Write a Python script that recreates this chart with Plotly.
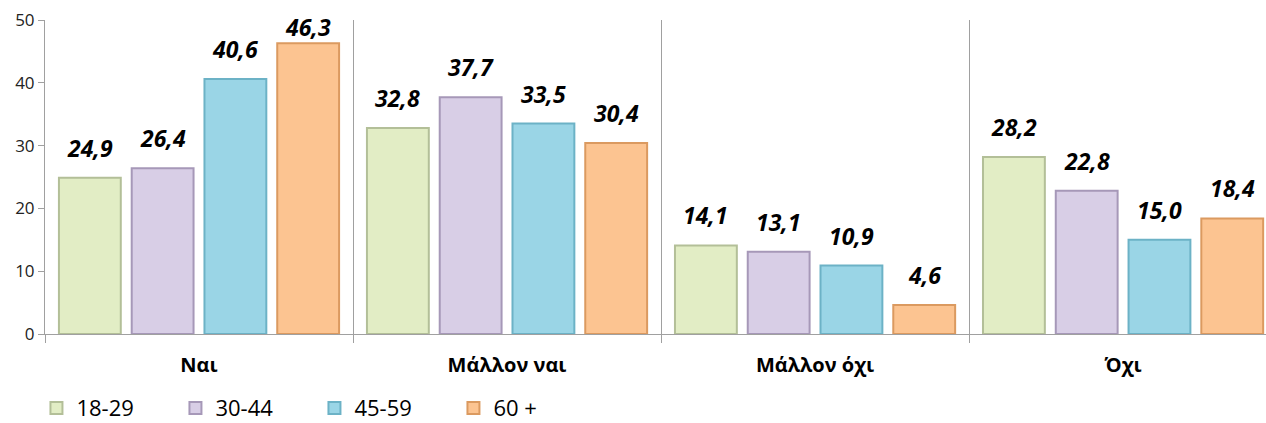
import plotly.graph_objects as go

categories = ["Ναι", "Μάλλον ναι", "Μάλλον όχι", "Όχι"]
series_names = ["18-29", "30-44", "45-59", "60 +"]
v_18_29 = [24.9, 32.8, 14.1, 28.2]
v_30_44 = [26.4, 37.7, 13.1, 22.8]
v_45_59 = [40.6, 33.5, 10.9, 15.0]
v_60p = [46.3, 30.4, 4.6, 18.4]
series_values = [v_18_29, v_30_44, v_45_59, v_60p]
y_ticks = [0, 10, 20, 30, 40, 50]

fills = ["#e2edc5", "#d8cee6", "#9ad5e6", "#fcc491"]
edges = ["#b3bf98", "#a698b8", "#6cb2c6", "#db9a60"]

BARGAP = 0.055
BARGROUPGAP = 0.15
FONT = "Open Sans"
Y_MAX = 50
PLOT_H = 423 - 20 - 89
LABEL_SHIFT = 12
LABEL_BOX = 32

fig = go.Figure()
for name, vals, fc, ec in zip(series_names, series_values, fills, edges):
    fig.add_trace(go.Bar(
        x=categories, y=vals, name=name,
        marker=dict(color=fc, line=dict(color=ec, width=2)),
    ))

def fmt(v):
    return f"{v:.1f}".replace(".", ",")

n = len(series_names)
slot = (1 - BARGAP) / n
ppu = PLOT_H / Y_MAX
annotations = []
for i, vals in enumerate(series_values):
    for j, v in enumerate(vals):
        ann = dict(
            x=j + (i - (n - 1) / 2) * slot, xref="x", yref="y",
            text=f"<b><i>{fmt(v)}</i></b>", showarrow=False,
            font=dict(family=FONT, size=23, color="#000000"),
        )
        if v * ppu + LABEL_SHIFT + LABEL_BOX > PLOT_H:
            # label kept inside the plot area (as in the original)
            ann.update(y=Y_MAX, yanchor="top", yshift=11)
        else:
            ann.update(y=v, yanchor="bottom", yshift=LABEL_SHIFT)
        annotations.append(ann)

fig.update_layout(
    width=1266, height=423,
    margin=dict(l=45, r=0, t=20, b=89, autoexpand=False),
    paper_bgcolor="white", plot_bgcolor="white",
    barmode="group", bargap=BARGAP, bargroupgap=BARGROUPGAP,
    font=dict(family=FONT, color="#000000"),
    annotations=annotations,
    showlegend=True,
    legend=dict(
        orientation="h", x=-0.007, xanchor="left", y=-0.236, yanchor="middle",
        entrywidth=94, entrywidthmode="pixels",
        font=dict(family=FONT, size=22, color="#000000"),
        itemclick=False, itemdoubleclick=False,
    ),
)
fig.update_xaxes(
    type="category", range=[-0.5, 3.464], automargin=False,
    tickson="boundaries", ticks="outside", ticklen=8, tickcolor="#a0a0a0",
    showgrid=True, gridcolor="#a0a0a0", gridwidth=1,
    showline=True, linecolor="#a0a0a0", linewidth=1,
    tickfont=dict(family=FONT, size=20, color="#000000", weight="bold"),
    ticklabelstandoff=13,
)
fig.update_yaxes(
    range=[0, Y_MAX], tickvals=y_ticks, ticks="outside", ticklen=6, tickcolor="#a0a0a0",
    automargin=False,
    showgrid=False, zeroline=False, showline=True, linecolor="#a0a0a0", linewidth=1,
    tickfont=dict(family=FONT, size=17, color="#222222"),
)

fig.write_html(
    "out.html",
    config={"displayModeBar": False},
    post_script="document.body.style.margin='0';document.body.style.overflow='hidden';",
)
